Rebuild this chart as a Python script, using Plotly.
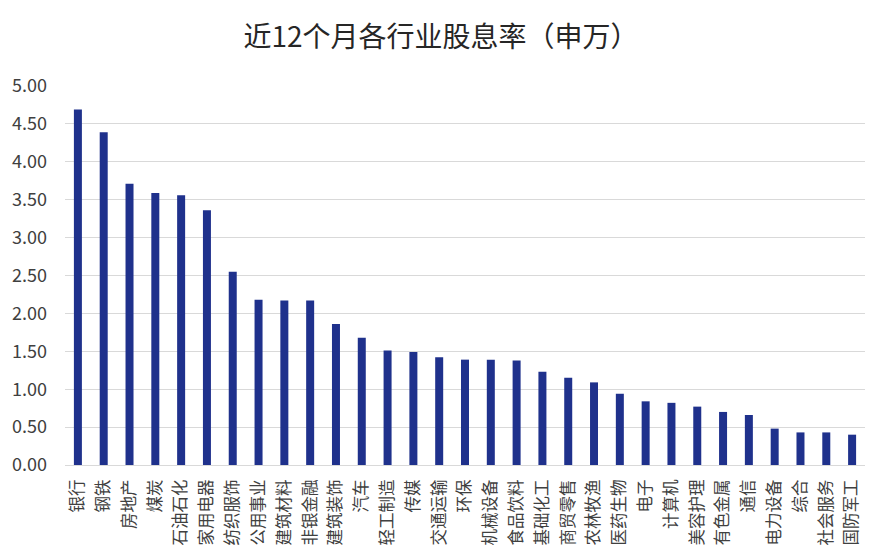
import plotly.graph_objects as go

categories = ["银行", "钢铁", "房地产", "煤炭", "石油石化", "家用电器", "纺织服饰", "公用事业",
              "建筑材料", "非银金融", "建筑装饰", "汽车", "轻工制造", "传媒", "交通运输", "环保",
              "机械设备", "食品饮料", "基础化工", "商贸零售", "农林牧渔", "医药生物", "电子",
              "计算机", "美容护理", "有色金属", "通信", "电力设备", "综合", "社会服务", "国防军工"]
values = [4.69, 4.39, 3.71, 3.59, 3.56, 3.36, 2.55, 2.18,
          2.17, 2.17, 1.86, 1.68, 1.51, 1.49, 1.42, 1.39,
          1.39, 1.38, 1.23, 1.15, 1.09, 0.94, 0.84,
          0.82, 0.77, 0.70, 0.66, 0.48, 0.43, 0.43, 0.40]
y_ticks = [0, 0.5, 1.0, 1.5, 2.0, 2.5, 3.0, 3.5, 4.0, 4.5, 5.0]
title_text = "近12个月各行业股息率（申万）"

FONT = "Noto Sans CJK SC"

fig = go.Figure(go.Bar(
    x=categories, y=values,
    marker=dict(color="#1f318c", line=dict(width=0)),
    hoverinfo="x+y",
))

fig.update_layout(
    width=882, height=550,
    margin=dict(l=65, r=17, t=86, b=85),
    paper_bgcolor="white", plot_bgcolor="white",
    bargap=0.69,
    showlegend=False,
    font=dict(family=FONT, color="#404040"),
    title=dict(text=title_text, x=0.5, xanchor="center", y=0.933, yanchor="middle",
               font=dict(family=FONT, size=28, color="#262626")),
)
fig.update_yaxes(
    range=[0, 5], tickvals=y_ticks, tickformat=".2f",
    showgrid=True, gridcolor="#d9d9d9", gridwidth=1,
    zeroline=False, showline=False, automargin=False,
    tickfont=dict(family=FONT, size=18, color="#404040"),
    ticks="", ticklabelstandoff=17,
)
fig.update_xaxes(
    tickangle=-90, showline=True, linecolor="#d9d9d9", linewidth=1,
    ticks="", automargin=False,
    tickfont=dict(family=FONT, size=16.5, color="#404040"),
    ticklabelstandoff=7,
)

fig.write_html("out.html")
